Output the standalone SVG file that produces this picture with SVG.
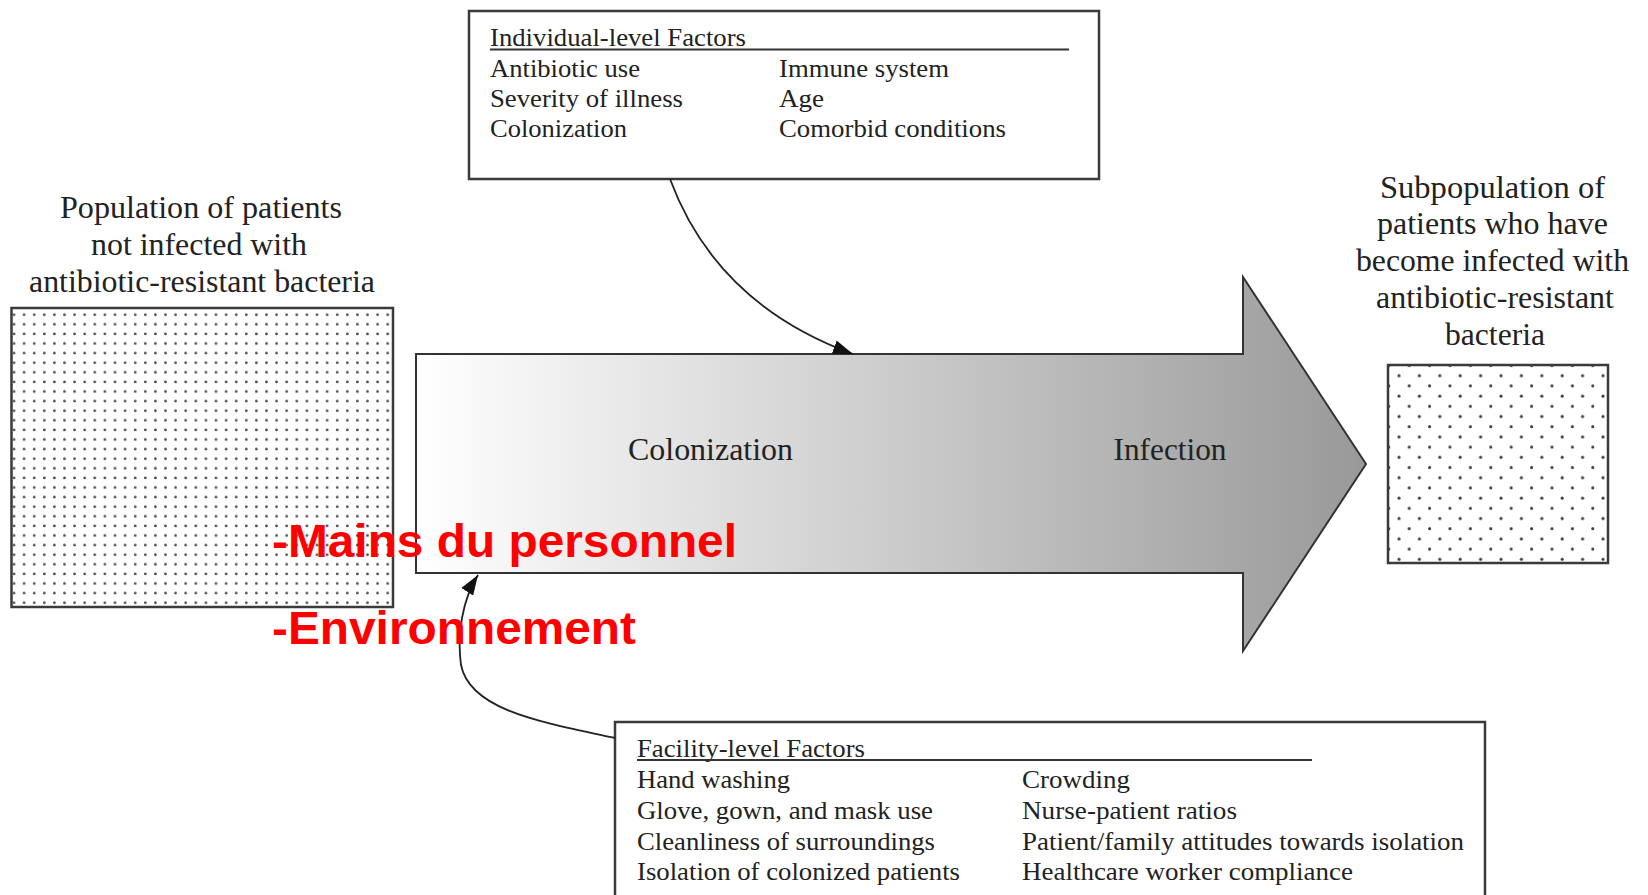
<svg xmlns="http://www.w3.org/2000/svg" width="1648" height="895" viewBox="0 0 1648 895">
  <style>
    .serif { font-family: "Liberation Serif", "Times New Roman", serif; fill: #222; }
    .box-text { font-size: 26px; }
    .label { font-size: 31px; text-anchor: middle; }
    .stage { font-size: 32px; text-anchor: middle; }
    .frame { fill: #fff; stroke: #3a3a3a; stroke-width: 2.5; }
    .rule { stroke: #333; stroke-width: 2; }
    .connector { fill: none; stroke: #222; stroke-width: 1.8; marker-end: url(#head); }
    .red { font-family: "Liberation Sans", Arial, sans-serif; font-weight: bold; font-size: 47px; fill: #ff0000; }
  </style>
  <defs>
    <linearGradient id="flow" x1="416" y1="0" x2="1366" y2="0" gradientUnits="userSpaceOnUse">
      <stop offset="0" stop-color="#ffffff"/>
      <stop offset="1" stop-color="#999999"/>
    </linearGradient>
    <!-- dense square dot grid for the uninfected population -->
    <pattern id="dotsDense" x="9" y="310" width="10.1" height="9.6" patternUnits="userSpaceOnUse">
      <circle cx="5" cy="4.7" r="1.35" fill="#4a4a4a"/>
    </pattern>
    <!-- sparse staggered dot grid for the infected subpopulation -->
    <pattern id="dotsSparse" x="1394" y="370.7" width="20.4" height="20.4" patternUnits="userSpaceOnUse">
      <circle cx="5" cy="5" r="1.5" fill="#3a3a3a"/>
      <circle cx="15.2" cy="15.2" r="1.5" fill="#3a3a3a"/>
    </pattern>
    <marker id="head" markerUnits="userSpaceOnUse" markerWidth="22" markerHeight="16" refX="20" refY="8" orient="auto">
      <path d="M0,1 L20,8 L0,15 Z" fill="#111"/>
    </marker>
  </defs>

  <rect width="1648" height="895" fill="#fff"/>

  <!-- main progression arrow -->
  <g id="progression">
    <path d="M416,354 H1243 V277 L1366,464 L1243,651 V573 H416 Z" fill="url(#flow)" stroke="#333" stroke-width="2"/>
    <text class="serif stage" x="710.5" y="460" textLength="165" lengthAdjust="spacingAndGlyphs">Colonization</text>
    <text class="serif stage" x="1170" y="460" textLength="113" lengthAdjust="spacingAndGlyphs">Infection</text>
  </g>

  <!-- uninfected population -->
  <g id="population">
    <text class="serif label" x="201" y="218" textLength="282" lengthAdjust="spacingAndGlyphs">Population of patients</text>
    <text class="serif label" x="199" y="255" textLength="216" lengthAdjust="spacingAndGlyphs">not infected with</text>
    <text class="serif label" x="202" y="292" textLength="346" lengthAdjust="spacingAndGlyphs">antibiotic-resistant bacteria</text>
    <rect x="11.5" y="308" width="381.5" height="299" fill="url(#dotsDense)" stroke="#3a3a3a" stroke-width="2.5"/>
  </g>

  <!-- infected subpopulation -->
  <g id="subpopulation">
    <text class="serif label" x="1492.5" y="198" textLength="225" lengthAdjust="spacingAndGlyphs">Subpopulation of</text>
    <text class="serif label" x="1492.5" y="234" textLength="231" lengthAdjust="spacingAndGlyphs">patients who have</text>
    <text class="serif label" x="1492.5" y="271" textLength="273" lengthAdjust="spacingAndGlyphs">become infected with</text>
    <text class="serif label" x="1495" y="308" textLength="238" lengthAdjust="spacingAndGlyphs">antibiotic-resistant</text>
    <text class="serif label" x="1495" y="345" textLength="100" lengthAdjust="spacingAndGlyphs">bacteria</text>
    <rect x="1388" y="365" width="220" height="198" fill="url(#dotsSparse)" stroke="#3a3a3a" stroke-width="2.5"/>
  </g>

  <!-- individual-level factors -->
  <g id="individual-factors">
    <rect class="frame" x="469" y="11" width="630" height="168"/>
    <text class="serif box-text" x="490" y="46" textLength="256" lengthAdjust="spacingAndGlyphs">Individual-level Factors</text>
    <line class="rule" x1="490" y1="49.5" x2="1069" y2="49.5"/>
    <text class="serif box-text" x="490" y="77" textLength="150" lengthAdjust="spacingAndGlyphs">Antibiotic use</text>
    <text class="serif box-text" x="490" y="107" textLength="193" lengthAdjust="spacingAndGlyphs">Severity of illness</text>
    <text class="serif box-text" x="490" y="137" textLength="137" lengthAdjust="spacingAndGlyphs">Colonization</text>
    <text class="serif box-text" x="779" y="77" textLength="170" lengthAdjust="spacingAndGlyphs">Immune system</text>
    <text class="serif box-text" x="779" y="107" textLength="45" lengthAdjust="spacingAndGlyphs">Age</text>
    <text class="serif box-text" x="779" y="137" textLength="227" lengthAdjust="spacingAndGlyphs">Comorbid conditions</text>
  </g>

  <!-- facility-level factors -->
  <g id="facility-factors">
    <rect class="frame" x="615" y="722" width="870" height="190"/>
    <text class="serif box-text" x="637" y="757" textLength="228" lengthAdjust="spacingAndGlyphs">Facility-level Factors</text>
    <line class="rule" x1="637" y1="760" x2="1312" y2="760"/>
    <text class="serif box-text" x="637" y="788" textLength="153" lengthAdjust="spacingAndGlyphs">Hand washing</text>
    <text class="serif box-text" x="637" y="819" textLength="296" lengthAdjust="spacingAndGlyphs">Glove, gown, and mask use</text>
    <text class="serif box-text" x="637" y="850" textLength="298" lengthAdjust="spacingAndGlyphs">Cleanliness of surroundings</text>
    <text class="serif box-text" x="637" y="880" textLength="323" lengthAdjust="spacingAndGlyphs">Isolation of colonized patients</text>
    <text class="serif box-text" x="1022" y="788" textLength="108" lengthAdjust="spacingAndGlyphs">Crowding</text>
    <text class="serif box-text" x="1022" y="819" textLength="215" lengthAdjust="spacingAndGlyphs">Nurse-patient ratios</text>
    <text class="serif box-text" x="1022" y="850" textLength="442" lengthAdjust="spacingAndGlyphs">Patient/family attitudes towards isolation</text>
    <text class="serif box-text" x="1022" y="880" textLength="331" lengthAdjust="spacingAndGlyphs">Healthcare worker compliance</text>
  </g>

  <!-- influence connectors -->
  <g id="connectors">
    <path class="connector" d="M670,179 C700,260 760,320 853,354"/>
    <path class="connector" d="M615,738 C540,722 470,710 461,665 C457,635 462,600 478,575"/>
  </g>

  <!-- transmission routes -->
  <g id="routes">
    <text class="red" x="272" y="557" textLength="465" lengthAdjust="spacingAndGlyphs">-Mains du personnel</text>
    <text class="red" x="272" y="644" textLength="364" lengthAdjust="spacingAndGlyphs">-Environnement</text>
  </g>
</svg>
